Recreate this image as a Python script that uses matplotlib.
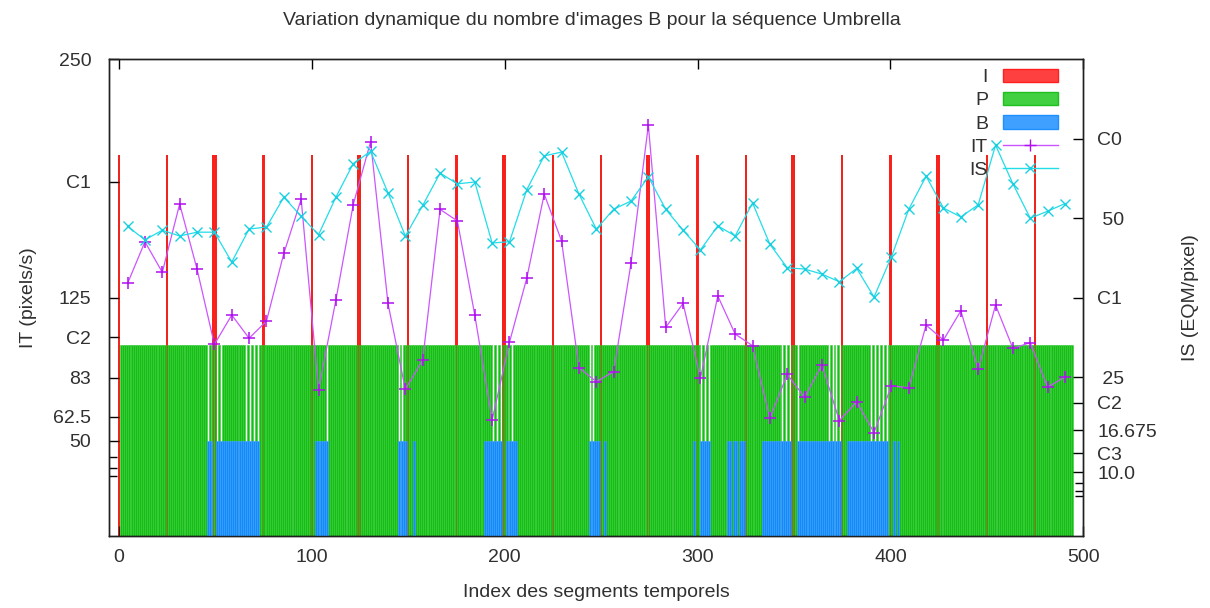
import numpy as np
import matplotlib.pyplot as plt
from matplotlib.patches import Patch
from matplotlib.lines import Line2D

plt.rcParams['font.family'] = ['Liberation Sans', 'DejaVu Sans']
plt.rcParams['font.size'] = 14
plt.rcParams['text.color'] = '#303030'
plt.rcParams['axes.labelcolor'] = '#303030'
plt.rcParams['xtick.labelcolor'] = '#303030'
plt.rcParams['ytick.labelcolor'] = '#303030'

titre = "Variation dynamique du nombre d'images B pour la séquence Umbrella"

# type d'image de chaque segment temporel
n_segments = 495
i_frames = [0, 25, 49, 50, 75, 100, 124, 125, 150, 175, 199, 200, 225, 250,
            274, 275, 300, 325, 349, 350, 375, 400, 424, 425, 450, 475]
b_runs = [(46, 72), (102, 108), (145, 149), (153, 153), (190, 206),
          (244, 249), (252, 252), (298, 298), (302, 306), (316, 324),
          (334, 348), (352, 374), (378, 398), (402, 402), (404, 404)]
b_missing = [318, 321]
p_missing = [46, 48, 51, 53, 66, 68, 70, 72, 108, 145, 147, 194, 196, 198,
             202, 204, 244, 246, 302, 304, 306, 344, 346, 348, 352, 368,
             370, 372, 374, 390, 392, 394, 396, 398]
h_i, h_p, h_b = 200, 100, 50

# IT (pixels/s) et IS (EQM/pixel) par groupe de 9 segments
groupes = np.arange(4.5, n_segments, 9)
it_vals = [132.5, 154.3, 138.3, 174.1, 140.0, 100.5, 115.9, 103.7, 112.7, 148.2,
           176.6, 76.6, 123.8, 173.8, 206.8, 122.0, 76.9, 92.3, 171.3, 165.2,
           115.9, 60.8, 101.6, 135.4, 179.3, 154.7, 88.3, 80.9, 86.2, 143.0,
           215.5, 109.4, 122.0, 82.7, 125.9, 105.9, 99.8, 61.7, 84.8, 72.7,
           89.7, 60.5, 70.4, 54.2, 78.7, 77.8, 110.6, 102.8, 118.1, 87.4,
           121.1, 98.4, 101.4, 78.0, 83.5]
is_vals = [48.7, 46.6, 48.1, 47.2, 47.8, 47.8, 43.1, 48.3, 48.6, 53.3,
           50.3, 47.4, 53.3, 58.6, 60.5, 54.0, 47.2, 52.0, 57.1, 55.4,
           55.7, 46.1, 46.3, 54.5, 59.8, 60.4, 53.8, 48.3, 51.4, 52.7,
           56.5, 51.4, 48.1, 45.0, 48.8, 47.2, 52.4, 45.9, 42.2, 42.0,
           41.2, 40.0, 42.1, 37.6, 43.9, 51.4, 56.6, 51.6, 50.2, 52.1,
           61.5, 55.4, 50.0, 51.1, 52.3]

y1_ticks = [250, 185.7, 125, 104.2, 83, 62.5, 50]
y1_labels = ['250', 'C1', '125', 'C2', '83', '62.5', '50']
y1_minor = [41.67, 35.71, 31.25]
y2_ticks = [62.5, 50, 37.5, 25, 21, 16.675, 13, 10]
y2_labels = ['C0', ' 50', 'C1', ' 25', 'C2', '16.675', 'C3', '10.0']
y2_minor = [8.33, 7.14, 6.25]

b_frames = [k for a, b in b_runs for k in range(a, b + 1)
            if k not in i_frames and k not in b_missing]
p_frames = [k for k in range(1, n_segments) if k not in p_missing]

red, green, blue = '#ff2020', '#13bf13', '#1289ff'
violet, cyan = '#cc55ff', '#22dde8'

fig = plt.figure(figsize=(12.1, 6.08), dpi=100)
ax = fig.add_axes([0.0903, 0.1184, 0.8050, 0.7841])
ax2 = ax.twinx()

ax.bar(i_frames, h_i, width=1.2, color=red, linewidth=0, zorder=1)
ax.bar(p_frames, h_p, width=1.0, color=green, edgecolor='#3acb3a',
       linewidth=0.4, zorder=2)
ax.bar(b_frames, h_b, width=1.0, color=blue, edgecolor='#45a2ff',
       linewidth=0.4, zorder=3)
# les images I restent visibles a travers P et B
ax.bar(i_frames, h_i, width=0.8, color='#d03010', alpha=0.3, linewidth=0,
       zorder=4)

ax.plot(groupes, it_vals, color=violet, lw=0.9, marker='+', ms=8, mew=1.1,
        mec='#b010f0', zorder=5)
ax2.plot(groupes, is_vals, color=cyan, lw=0.9, marker='x', ms=7, mew=1.0,
         mec='#18d0e0', zorder=5)

ax.set_xlim(-5, 500)
ax.set_ylim(0, 250)
ax2.set_ylim(0, 75)

ax.set_xticks(range(0, 501, 100))
ax.set_yticks(y1_ticks, labels=y1_labels)
ax.set_yticks(y1_minor, minor=True)
ax2.set_yticks(y2_ticks, labels=y2_labels)
ax2.set_yticks(y2_minor, minor=True)

ax.tick_params(axis='x', direction='in', top=True, length=7, width=1, pad=9)
ax.tick_params(axis='y', which='major', direction='in', right=False,
               length=7, width=1, pad=13)
ax.tick_params(axis='y', which='minor', direction='in', right=False,
               length=6, width=1)
ax2.tick_params(axis='y', which='major', direction='in', length=7, width=1,
                pad=10)
ax2.tick_params(axis='y', which='minor', direction='in', length=6, width=1)

for a in (ax, ax2):
    for s in a.spines.values():
        s.set_linewidth(1.0)
        s.set_color('#202020')

ax.set_xlabel('Index des segments temporels', labelpad=13)
ax.set_ylabel('IT (pixels/s)', labelpad=12)
ax2.set_ylabel('IS (EQM/pixel)', labelpad=18)
fig.text(0.4893, 0.967, titre, ha='center', va='center', fontsize=14)

handles = [Patch(facecolor='#ff4040', edgecolor='#ff2020', lw=1),
           Patch(facecolor='#40d040', edgecolor='#20c020', lw=1),
           Patch(facecolor='#40a0ff', edgecolor='#2090ff', lw=1),
           Line2D([], [], color=violet, lw=1, marker='+', ms=8, mec='#b010f0'),
           Line2D([], [], color=cyan, lw=1, marker='x', ms=7, mec='#18d0e0')]
leg = ax2.legend(handles, ['I', 'P', 'B', 'IT', 'IS'], loc='upper right',
                 bbox_to_anchor=(0.974, 0.98), markerfirst=False,
                 frameon=False, handlelength=2.85, handletextpad=0.75,
                 labelspacing=0.28, borderpad=0, borderaxespad=0,
                 numpoints=1, fontsize=14)

fig.savefig('out.png', dpi=100)
